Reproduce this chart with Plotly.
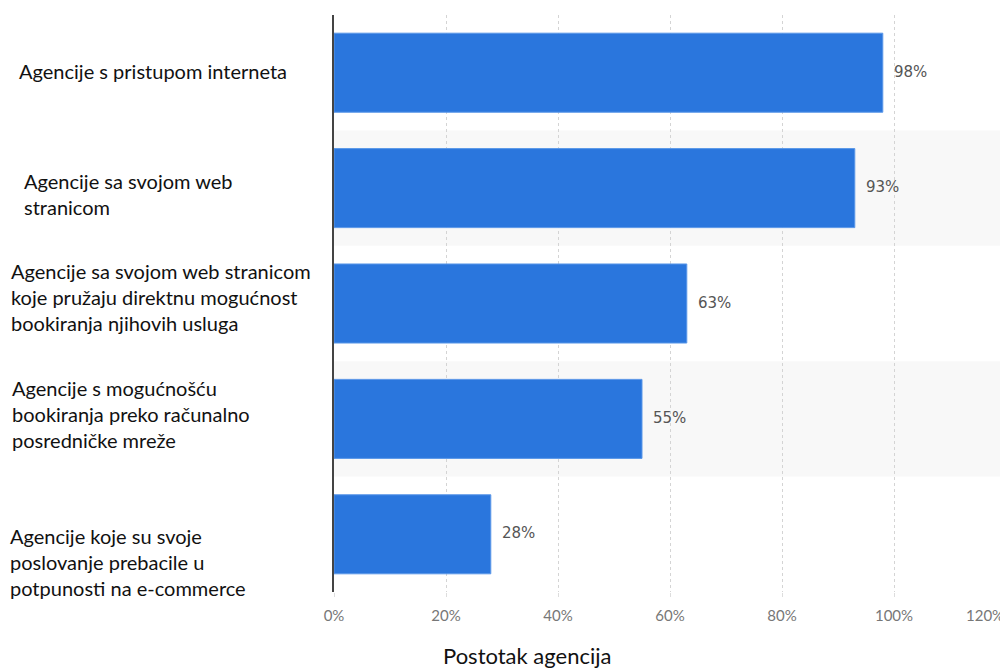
import plotly.graph_objects as go

categories = [
    "Agencije s pristupom interneta",
    "Agencije sa svojom web<br>stranicom",
    "Agencije sa svojom web stranicom<br>koje pružaju direktnu mogućnost<br>bookiranja njihovih usluga",
    "Agencije s mogućnošću<br>bookiranja preko računalno<br>posredničke mreže",
    "Agencije koje su svoje<br>poslovanje prebacile u<br>potpunosti na e-commerce",
]
values = [98, 93, 63, 55, 28]
value_labels = ["98%", "93%", "63%", "55%", "28%"]
tick_vals = [0, 20, 40, 60, 80, 100, 120]
tick_text = ["0%", "20%", "40%", "60%", "80%", "100%", "120%"]
axis_title = "Postotak agencija"

# label placement tweaks (pixel shifts), styling only
label_xshift = [17, 22, 9, 10, 8]
label_yshift = [2, -6, 7, 5, -28]

BAR = "#2a76dd"
L, T, R, B = 326, 7, 2, 76
W, H = 1000, 660
PW = W - L - R
PH = H - T - B

fig = go.Figure()
fig.add_trace(go.Bar(
    x=values, y=categories, orientation="h",
    marker=dict(color=BAR, line=dict(color="#5a97e8", width=1)),
    width=0.685, hoverinfo="x+y",
))

shapes = []
for i, c in enumerate(categories):
    if i % 2 == 1:
        shapes.append(dict(type="rect", xref="paper", yref="y",
                           x0=0, x1=1, y0=i - 0.5, y1=i + 0.5,
                           fillcolor="#f8f8f8", line=dict(width=0), layer="below"))

annotations = []
for i, c in enumerate(categories):
    annotations.append(dict(
        x=0, xref="paper", y=c, yref="y", xanchor="left", align="left",
        xshift=label_xshift[i] - 334, yshift=label_yshift[i],
        text=c, showarrow=False,
        font=dict(family="Lato", size=20, color="#111111"),
    ))
    annotations.append(dict(
        x=values[i], xref="x", y=c, yref="y", xanchor="left",
        xshift=9, yshift=1, text=value_labels[i], showarrow=False,
        font=dict(family="DejaVu Sans", size=15, color="#555555"),
    ))
# last tick label (at the right edge) kept inside the page
annotations.append(dict(
    x=tick_vals[-1], xref="x", y=0, yref="paper", xanchor="right", yanchor="middle",
    yshift=-23, text=tick_text[-1], showarrow=False,
    font=dict(family="Lato", size=15, color="#777777"),
))
annotations.append(dict(
    x=(527 - 334) / PW, xref="paper", y=-(655 - 592) / PH, yref="paper",
    xanchor="center", yanchor="middle",
    text=axis_title, showarrow=False,
    font=dict(family="Lato", size=22, color="#111111"),
))

fig.update_layout(
    width=W, height=H,
    margin=dict(l=L, r=R, t=T, b=B),
    paper_bgcolor="white", plot_bgcolor="white",
    showlegend=False,
    shapes=shapes, annotations=annotations,
    xaxis=dict(
        range=[0, 120], tickvals=tick_vals[:-1], ticktext=tick_text[:-1],
        showgrid=True, gridcolor="#d4d4d4", griddash="dot", gridwidth=1,
        zeroline=False, showline=False,
        ticks="outside", ticklen=4, tickcolor="#dddddd",
        ticklabelstandoff=6,
        tickfont=dict(family="Lato", size=15, color="#777777"),
    ),
    yaxis=dict(
        type="category", autorange="reversed", showticklabels=False,
        showline=True, linecolor="#444444", linewidth=1.5,
        showgrid=False, zeroline=False, ticks="",
    ),
)
fig.add_vline(x=120, line=dict(color="#d4d4d4", width=1, dash="dot"), layer="below")

fig.write_html("out.html")
